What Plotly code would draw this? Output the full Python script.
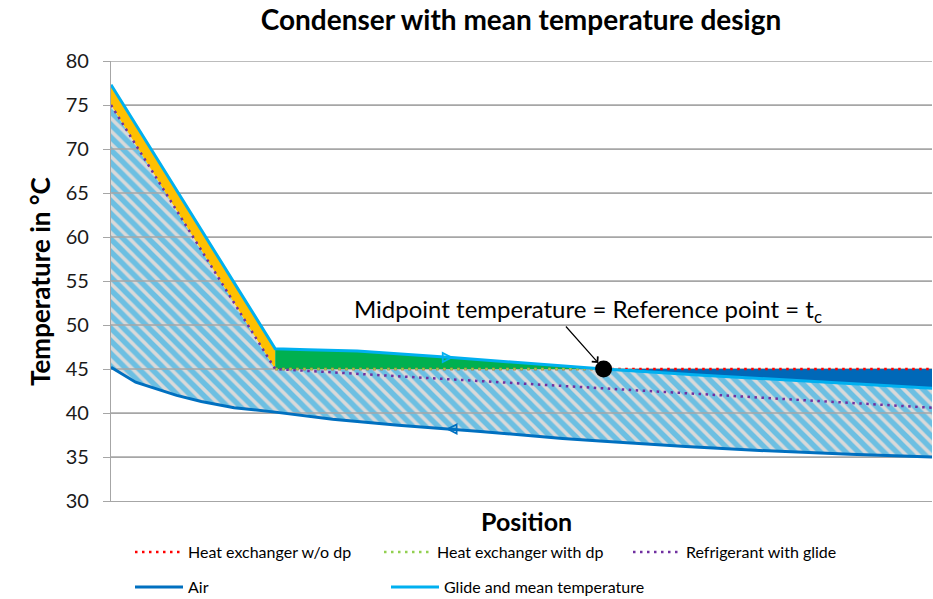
import plotly.graph_objects as go

# ---- data (position 0..100 along the condenser, temperature in °C) ----
air_pos = [0, 3, 8, 11, 15, 20, 27, 35, 45, 55, 60, 70, 80, 90, 100]
air_temp = [45.2, 43.5, 42.0, 41.3, 40.6, 40.1, 39.3, 38.6, 37.9, 37.1, 36.8, 36.2, 35.7, 35.3, 35.0]

glide_pos = [0, 20, 24, 30, 41.5, 52.5, 60, 72, 86, 100]
glide_temp = [77.3, 47.3, 47.2, 47.05, 46.3, 45.55, 45.0, 44.3, 43.55, 42.8]

refr_pos = [0, 20, 100]
refr_temp = [75.0, 45.0, 40.6]

hx_pos = [20, 60, 100]
hx_temp = [45.0, 45.0, 45.0]

hxdp_pos = [20, 60, 64]
hxdp_temp = [45.0, 45.0, 44.8]

mid_pos = [60]
mid_temp = [45.0]

arrow_air_pos = [41]
arrow_glide_pos = [41.5]

y_ticks = [30, 35, 40, 45, 50, 55, 60, 65, 70, 75, 80]

FONT = "Lato"
C_AIR = "#0070C0"
C_GLIDE = "#00B0F0"
C_RED = "#FF0000"
C_GREEN = "#92D050"
C_PURPLE = "#7030A0"
GRID = "#A6A6A6"


def interp(xs, ys, x):
    for i in range(len(xs) - 1):
        if xs[i] <= x <= xs[i + 1]:
            t = (x - xs[i]) / (xs[i + 1] - xs[i])
            return ys[i] + t * (ys[i + 1] - ys[i])
    return ys[-1]


def seg(xs, ys, a, b):
    px = [x for x in xs if a <= x <= b]
    py = [y for x, y in zip(xs, ys) if a <= x <= b]
    return px, py


fig = go.Figure()

# hatched region: top = refrigerant (0-20), heat exchanger (20-60), glide (60-100); bottom = air
t1x, t1y = seg(refr_pos, refr_temp, 0, 20)
t2x, t2y = seg(hx_pos, hx_temp, 20, 60)
t3x, t3y = seg(glide_pos, glide_temp, 60, 100)
hatch_x = t1x + t2x + t3x + air_pos[::-1]
hatch_y = t1y + t2y + t3y + air_temp[::-1]
fig.add_trace(go.Scatter(
    x=hatch_x, y=hatch_y, mode="lines", fill="toself", line=dict(width=0),
    fillcolor="#D9D9D9",
    fillpattern=dict(shape="\\", bgcolor="#D9D9D9", fgcolor="#00A6EC",
                     size=9, solidity=0.6),
    showlegend=False, hoverinfo="skip"))

# gridlines visible over the hatched region
gx, gy = [], []
for v in y_ticks[1:]:
    gx += [0, 100, None]
    gy += [v, v, None]
fig.add_trace(go.Scatter(x=gx, y=gy, mode="lines", line=dict(color=GRID, width=1.3),
                         showlegend=False, hoverinfo="skip"))

# orange: between glide and refrigerant (desuperheating)
gx1, gy1 = seg(glide_pos, glide_temp, 0, 20)
rx1, ry1 = seg(refr_pos, refr_temp, 0, 20)
fig.add_trace(go.Scatter(x=gx1 + rx1[::-1], y=gy1 + ry1[::-1], mode="lines", fill="toself",
                         fillcolor="#FFC000", line=dict(width=0), showlegend=False,
                         hoverinfo="skip"))

# green: between glide and heat exchanger (20-60)
gx2, gy2 = seg(glide_pos, glide_temp, 20, 60)
hx2, hy2 = seg(hx_pos, hx_temp, 20, 60)
fig.add_trace(go.Scatter(x=gx2 + hx2[::-1], y=gy2 + hy2[::-1], mode="lines", fill="toself",
                         fillcolor="#00B050", line=dict(width=0), showlegend=False,
                         hoverinfo="skip"))

# dark blue: between heat exchanger and glide (60-100)
hx3, hy3 = seg(hx_pos, hx_temp, 60, 100)
fig.add_trace(go.Scatter(x=hx3 + t3x[::-1], y=hy3 + t3y[::-1], mode="lines", fill="toself",
                         fillcolor="#0068B8", line=dict(width=0), showlegend=False,
                         hoverinfo="skip"))

DOT = "2.5px,4.5px"
fig.add_trace(go.Scatter(x=hx_pos, y=hx_temp, mode="lines", name="Heat exchanger w/o dp",
                         line=dict(color=C_RED, width=2.5, dash=DOT), legend="legend"))
fig.add_trace(go.Scatter(x=hxdp_pos, y=hxdp_temp, mode="lines", name="Heat exchanger with dp",
                         line=dict(color=C_GREEN, width=2.5, dash=DOT), legend="legend"))
fig.add_trace(go.Scatter(x=refr_pos, y=refr_temp, mode="lines", name="Refrigerant with glide",
                         line=dict(color=C_PURPLE, width=2.5, dash=DOT), legend="legend"))
fig.add_trace(go.Scatter(x=air_pos, y=air_temp, mode="lines", name="Air",
                         line=dict(color=C_AIR, width=3), legend="legend2"))
fig.add_trace(go.Scatter(x=glide_pos, y=glide_temp, mode="lines",
                         name="Glide and mean temperature",
                         line=dict(color=C_GLIDE, width=3), legend="legend3"))

# flow direction arrows
fig.add_trace(go.Scatter(
    x=arrow_air_pos, y=[interp(air_pos, air_temp, p) for p in arrow_air_pos],
    mode="markers", marker=dict(symbol="arrow-left-open", size=9, color=C_AIR,
                                line=dict(color=C_AIR, width=1.8)),
    showlegend=False, hoverinfo="skip"))
fig.add_trace(go.Scatter(
    x=arrow_glide_pos, y=[interp(glide_pos, glide_temp, p) for p in arrow_glide_pos],
    mode="markers", marker=dict(symbol="arrow-right-open", size=9, color=C_GLIDE,
                                line=dict(color=C_GLIDE, width=1.8)),
    showlegend=False, hoverinfo="skip"))

# midpoint
fig.add_trace(go.Scatter(x=mid_pos, y=mid_temp, mode="markers",
                         marker=dict(color="black", size=17), showlegend=False,
                         hoverinfo="skip"))

fig.add_annotation(x=mid_pos[0], y=mid_temp[0], xref="x", yref="y", text="",
                   showarrow=True, ax=-39, ay=-44, arrowhead=4, arrowsize=1.3,
                   arrowwidth=1.2, arrowcolor="black", standoff=8)
fig.add_annotation(x=(588 - 111) / 8.21, y=51.6, xref="x", yref="y",
                   text="Midpoint temperature = Reference point = t<sub>c</sub>",
                   showarrow=False, font=dict(family=FONT, size=24, color="black"),
                   xanchor="center", yanchor="middle")

# axis titles
fig.add_annotation(x=(22 - 111) / 821, y=(501 - 282) / 440, xref="paper", yref="paper",
                   text="<b>Temperature in °C</b>", textangle=-90, showarrow=False,
                   font=dict(family=FONT, size=26, color="black"))
fig.add_annotation(x=(526 - 111) / 821, y=(501 - 521) / 440, xref="paper", yref="paper",
                   text="<b>Position</b>", showarrow=False,
                   font=dict(family=FONT, size=25, color="black"), yanchor="middle")

LEG_FONT = dict(family=FONT, size=16, color="black")
fig.update_layout(
    width=933, height=599,
    margin=dict(l=111, r=1, t=61, b=98, autoexpand=False),
    paper_bgcolor="white", plot_bgcolor="white",
    title=dict(text="<b>Condenser with mean temperature design</b>", x=(521 - 111) / 821,
               xref="paper", xanchor="center", y=1 - 20 / 599, yanchor="middle",
               font=dict(family=FONT, size=28, color="black")),
    xaxis=dict(range=[0, 100], showgrid=False, zeroline=False, showticklabels=False,
               ticks="", showline=True, linecolor=GRID, linewidth=1.3, fixedrange=True,
               automargin=False),
    yaxis=dict(range=[30, 80], tickvals=y_ticks, showgrid=True, gridcolor=GRID,
               gridwidth=1.3, zeroline=False, showline=True, linecolor=GRID, linewidth=1.3,
               ticks="outside", ticklen=7, tickcolor=GRID, ticklabelstandoff=10,
               automargin=False,
               tickfont=dict(family=FONT, size=20, color="#1a1a1a")),
    legend=dict(orientation="h", x=(130 - 111) / 821, xanchor="left",
                y=(501 - 552) / 440, yanchor="middle", entrywidth=186, entrywidthmode="pixels",
                itemwidth=48, font=LEG_FONT, bgcolor="rgba(0,0,0,0)", tracegroupgap=0),
    legend2=dict(orientation="h", x=(130 - 111) / 821, xanchor="left",
                 y=(501 - 587) / 440, yanchor="middle",
                 itemwidth=48, font=LEG_FONT, bgcolor="rgba(0,0,0,0)"),
    legend3=dict(orientation="h", x=(386 - 111) / 821, xanchor="left",
                 y=(501 - 587) / 440, yanchor="middle",
                 itemwidth=48, font=LEG_FONT, bgcolor="rgba(0,0,0,0)"),
    showlegend=True,
)

fig.write_html("out.html", config={"displayModeBar": False},
               post_script="document.body.style.margin='0';")
